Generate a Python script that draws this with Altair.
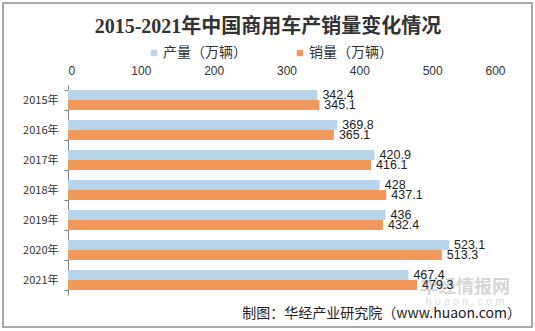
import altair as alt
import pandas as pd

years = ["2015年", "2016年", "2017年", "2018年", "2019年", "2020年", "2021年"]
production = [342.4, 369.8, 420.9, 428, 436, 523.1, 467.4]
sales = [345.1, 365.1, 416.1, 437.1, 432.4, 513.3, 479.3]
series = ["产量（万辆）", "销量（万辆）"]

rows = []
for y, p, s in zip(years, production, sales):
    rows.append({"year": y, "series": series[0], "value": p})
    rows.append({"year": y, "series": series[1], "value": s})
df = pd.DataFrame(rows)

FONT = "Liberation Sans, Noto Sans CJK SC"
CJK = "Noto Sans CJK SC"
SERIF = "Liberation Serif, Noto Sans CJK SC"

yenc = alt.Y("year:N", sort=years,
             scale=alt.Scale(paddingInner=1/3, paddingOuter=1/6),
             axis=alt.Axis(title=None, tickBand="extent", labelFont=CJK, labelFontSize=11,
                           labelColor="#333333", domainColor="#7f7f7f", tickColor="#7f7f7f",
                           tickSize=4, labelPadding=6))
yoff = alt.YOffset("series:N", sort=series, scale=alt.Scale(paddingInner=0, paddingOuter=0))

base = alt.Chart(df)

bars = base.mark_bar().encode(
    y=yenc,
    yOffset=yoff,
    x=alt.X("value:Q", scale=alt.Scale(domain=[0, 600]),
            axis=alt.Axis(orient="top", values=[0, 100, 200, 300, 400, 500, 600], grid=False,
                          domain=False, ticks=False, title=None, labelFont=FONT,
                          labelFontSize=12, labelColor="#333333", labelPadding=8)),
    color=alt.Color("series:N", sort=series,
                    scale=alt.Scale(domain=series, range=["#b8d4e8", "#f0995a"]),
                    legend=alt.Legend(title=None, orient="none", legendX=79, legendY=-39,
                                      direction="horizontal", symbolType="square",
                                      symbolSize=40, symbolStrokeWidth=0, labelFont=CJK,
                                      labelFontSize=14, labelColor="#333333",
                                      columnPadding=46, symbolOffset=0, labelOffset=2)),
)

labels = base.mark_text(align="left", baseline="middle", dx=5, dy=0, font=FONT,
                        fontSize=12.5, color="#222222").encode(
    y=alt.Y("year:N", sort=years),
    yOffset=yoff,
    x="value:Q",
    text=alt.Text("value:Q"),
)

title = alt.Chart(pd.DataFrame({"t": ["2015-2021年中国商用车产销量变化情况"]})).mark_text(
    font=SERIF, fontSize=20, fontWeight="bold", color="#333333", align="center", baseline="middle"
).encode(text="t:N", x=alt.value(200), y=alt.value(-58))

wm1 = alt.Chart(pd.DataFrame({"t": ["华经情报网"]})).mark_text(
    font=CJK, fontSize=18, fontWeight="bold", color="#9a9a9a", opacity=0.4,
    align="center", baseline="middle"
).encode(text="t:N", x=alt.value(397), y=alt.value(203))

wm2 = alt.Chart(pd.DataFrame({"t": ["h u a o n . c o m"]})).mark_text(
    font=FONT, fontSize=11, color="#b0b0b0", opacity=0.4, align="center", baseline="middle"
).encode(text="t:N", x=alt.value(397), y=alt.value(217))

source = alt.Chart(pd.DataFrame({"t": ["制图：华经产业研究院（www.huaon.com）"]})).mark_text(
    font=CJK, fontSize=14, color="#222222", align="right", baseline="middle"
).encode(text="t:N", x=alt.value(453), y=alt.value(229))

border = alt.Chart(pd.DataFrame({"a": [0]})).mark_rect(
    fill=None, stroke="#8c8c8c", strokeWidth=1.5
).encode(x=alt.value(-65), x2=alt.value(464), y=alt.value(-82), y2=alt.value(242))

chart = alt.layer(bars, wm1, wm2, labels, title, source, border).properties(
    width=437, height=210,
    autosize=alt.AutoSizeParams(type="none"),
    padding={"left": 68, "top": 85, "right": 30, "bottom": 36},
    background="white",
).configure_view(stroke=None)

chart.save("out.html", embed_options={"renderer": "svg", "actions": False})
